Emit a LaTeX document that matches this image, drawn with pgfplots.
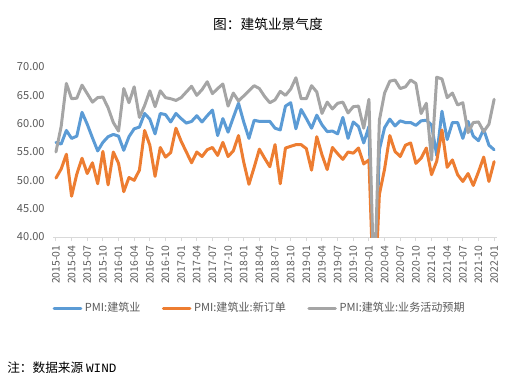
\documentclass[border=0pt]{standalone}
\usepackage{pgfplots}
\pgfplotsset{compat=1.18}
\usepackage{pgfplotstable}
\usepackage{fontspec}
\setmainfont{Noto Sans CJK SC}
\newfontfamily\monofont{Liberation Mono}
\definecolor{cb}{HTML}{5B9BD5}
\definecolor{co}{HTML}{ED7D31}
\definecolor{cg}{HTML}{A5A5A5}
\definecolor{txt}{HTML}{595959}
\definecolor{axc}{HTML}{D9D9D9}

\pgfplotstableread{
i b o g
0 56.7 50.4 55.0
1 56.4 52.0 59.5
2 58.8 54.6 67.1
3 57.4 47.2 64.4
4 57.8 51.1 64.5
5 62.0 53.9 66.8
6 59.9 51.2 65.3
7 57.5 53.1 63.8
8 55.2 49.4 64.6
9 56.7 55.1 64.7
10 57.7 49.2 62.8
11 58.1 55.0 60.2
12 57.8 53.0 58.7
13 55.3 48.0 66.2
14 57.7 50.5 63.7
15 59.1 50.0 66.5
16 59.4 51.8 61.1
17 61.8 58.8 63.2
18 60.8 56.2 65.8
19 58.2 50.7 63.0
20 61.8 55.8 65.8
21 61.6 54.1 64.6
22 60.3 54.9 64.4
23 61.8 59.2 64.1
24 60.9 56.9 64.6
25 60.1 55.0 65.6
26 60.4 53.1 66.6
27 61.4 55.0 65.0
28 60.3 54.2 66.0
29 61.4 55.4 67.4
30 62.4 55.8 65.3
31 57.9 54.4 66.2
32 60.9 56.7 67.0
33 58.5 54.2 63.1
34 61.1 55.2 65.4
35 63.6 57.9 64.0
36 60.3 53.2 64.9
37 57.4 49.3 65.8
38 60.6 52.3 66.7
39 60.4 55.5 66.2
40 60.4 53.9 64.8
41 60.4 52.4 63.7
42 59.2 56.3 64.2
43 58.9 49.4 65.7
44 63.1 55.7 65.0
45 63.7 56.0 66.1
46 59.1 56.3 68.1
47 62.5 56.3 64.4
48 60.9 55.6 64.4
49 59.2 51.8 66.7
50 61.5 57.7 65.6
51 59.8 54.5 61.8
52 58.6 51.9 63.8
53 58.7 55.8 62.6
54 58.2 54.7 63.6
55 61.1 53.7 63.8
56 57.4 55.0 61.9
57 60.3 54.8 63.0
58 59.5 55.7 63.1
59 56.6 52.9 59.2
60 59.5 53.6 64.3
61 26.6 27.0 30.0
62 55.4 47.5 60.6
63 59.3 52.0 65.4
64 60.8 57.9 67.5
65 59.6 55.1 67.7
66 60.5 54.2 66.2
67 60.2 56.2 66.5
68 60.2 56.6 67.7
69 59.7 53.0 67.1
70 60.5 53.9 61.8
71 60.6 55.7 63.6
72 59.8 51.0 53.6
73 54.4 53.4 68.2
74 62.2 58.9 67.9
75 57.2 52.3 64.6
76 60.2 53.6 65.4
77 60.2 51.0 63.3
78 57.4 49.8 63.7
79 60.4 51.2 58.4
80 57.8 49.1 60.2
81 57.0 51.5 60.3
82 59.0 54.1 58.6
83 56.2 49.8 59.9
84 55.4 53.3 64.3
}\datatable

\begin{document}
\begin{tikzpicture}
\useasboundingbox (0,0) rectangle (395.25pt,287.25pt);
\begin{axis}[
  at={(40pt,109.5pt)}, anchor=south west,
  scale only axis, width=332.55pt, height=127.5pt,
  xmin=-0.5, xmax=84.5, ymin=40, ymax=70,
  enlargelimits=false,
  separate axis lines,
  axis x line*=bottom, axis y line*=left,
  x axis line style={draw=axc, line width=0.75pt, -},
  y axis line style={draw=none},
  ytick={40,45,...,70},
  xtick={0,3,...,84},
  xticklabels={2015-01,2015-04,2015-07,2015-10,2016-01,2016-04,2016-07,2016-10,2017-01,2017-04,2017-07,2017-10,2018-01,2018-04,2018-07,2018-10,2019-01,2019-04,2019-07,2019-10,2020-01,2020-04,2020-07,2020-10,2021-01,2021-04,2021-07,2021-10,2022-01},
  xticklabel style={rotate=90, anchor=east, font=\fontsize{7.8}{9}\selectfont, text=txt},
  yticklabel style={font=\fontsize{8.3}{10}\selectfont, text=txt, /pgf/number format/.cd, fixed, fixed zerofill, precision=2, assume math mode=true},
  major y tick style={draw=none},
  major x tick style={draw=axc, line width=0.75pt},
  tick align=outside, major tick length=3pt,
  xtick pos=bottom,
  legend columns=3,
  legend style={draw=none, fill=none, at={(0.466,-0.418)}, anchor=center, font=\fontsize{8.3}{10}\selectfont, text=txt, /tikz/every even column/.append style={column sep=14pt}},
  legend image code/.code={\draw[#1] (0pt,0pt) -- (20pt,0pt);},
  every axis plot/.append style={line width=2.25pt, line join=round, line cap=round},
]
\addplot[cb] table[x=i,y=b]{\datatable};
\addlegendentry{PMI:建筑业}
\addplot[co] table[x=i,y=o]{\datatable};
\addlegendentry{PMI:建筑业:新订单}
\addplot[cg] table[x=i,y=g]{\datatable};
\addlegendentry{PMI:建筑业:业务活动预期}
\end{axis}
\node[font=\fontsize{10.3}{12}\selectfont] at (201pt,269.25pt) {图：建筑业景气度};
\node[anchor=west, font=\fontsize{9.5}{11}\selectfont, inner sep=0pt] at (5.25pt,11.25pt) {注：数据来源 {\monofont WIND}};
\end{tikzpicture}
\end{document}
